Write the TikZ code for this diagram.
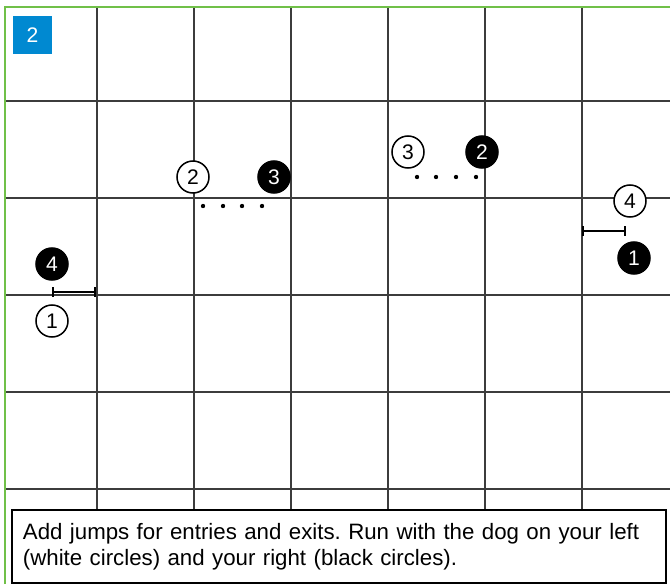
\documentclass[tikz,border=0pt]{standalone}
\usepackage{fontspec}
\setmainfont{Liberation Sans}
\usetikzlibrary{arrows.meta}
\definecolor{fieldgreen}{RGB}{112,192,72}
\definecolor{tagblue}{RGB}{0,137,209}
\definecolor{gridgray}{RGB}{60,60,60}
\frenchspacing
\tikzset{
  gridline/.style={gridgray,line width=1pt},
  edge/.style={fieldgreen,line width=1.8pt},
  tag/.style={fill=tagblue,text=white,minimum size=1.14cm,inner sep=0pt,font=\fontsize{18}{18}\selectfont},
  wcirc/.style={circle,draw,line width=1.3pt,fill=white,minimum size=0.96cm,inner sep=0pt,font=\fontsize{18}{18}\selectfont},
  bcirc/.style={wcirc,fill=black,text=white},
  dot/.style={circle,fill=black,minimum size=0.13cm,inner sep=0pt},
  jump/.style={{Bar[width=3mm]}-{Bar[width=3mm]},line width=1.6pt},
  note/.style={draw,line width=1.6pt,fill=white,anchor=north west,align=left,
    text width=18.96cm,inner xsep=0.33cm,inner ysep=0pt,minimum height=2.19cm,
    font=\fontsize{19}{22.5}\selectfont},
}
\begin{document}
\begin{tikzpicture}[x=0.03cm,y=-0.03cm]
  \useasboundingbox (0,0) rectangle (670,584);
  % grid
  \foreach \gx in {97,194,291,388,485,582}
    \draw[gridline] (\gx,7) -- (\gx,584);
  \foreach \gy in {101,198,295,392,489}
    \draw[gridline] (5,\gy) -- (670,\gy);
  \draw[edge] (5,584) -- (5,7) -- (670,7);
  \node[tag] (num) at (32.5,35) {2};
  % left jump
  \node[bcirc] (b4) at (52,264) {4};
  \node[wcirc] (w1) at (52,321) {1};
  \coordinate (jl1) at (52,292);
  \coordinate (jl2) at (96,292);
  \draw[jump] (jl1) -- (jl2);
  % middle pairs
  \node[wcirc] (w2) at (193,177) {2};
  \node[bcirc] (b3) at (274,177) {3};
  \foreach \dx [count=\i] in {203,223,242,262}
    \node[dot] (da\i) at (\dx,206) {};
  \node[wcirc] (w3) at (408,152) {3};
  \node[bcirc] (b2) at (482,152) {2};
  \foreach \dx [count=\i] in {417,436,456,476}
    \node[dot] (db\i) at (\dx,177) {};
  % right jump
  \node[wcirc] (w4) at (630,201) {4};
  \node[bcirc] (b1) at (634,258) {1};
  \coordinate (jr1) at (582,231);
  \coordinate (jr2) at (626,231);
  \draw[jump] (jr1) -- (jr2);
  % instructions
  \node[note] (text) at (11,509) {Add jumps for entries and exits. Run with the dog on your left\\(white circles) and your right (black circles).};
\end{tikzpicture}
\end{document}
